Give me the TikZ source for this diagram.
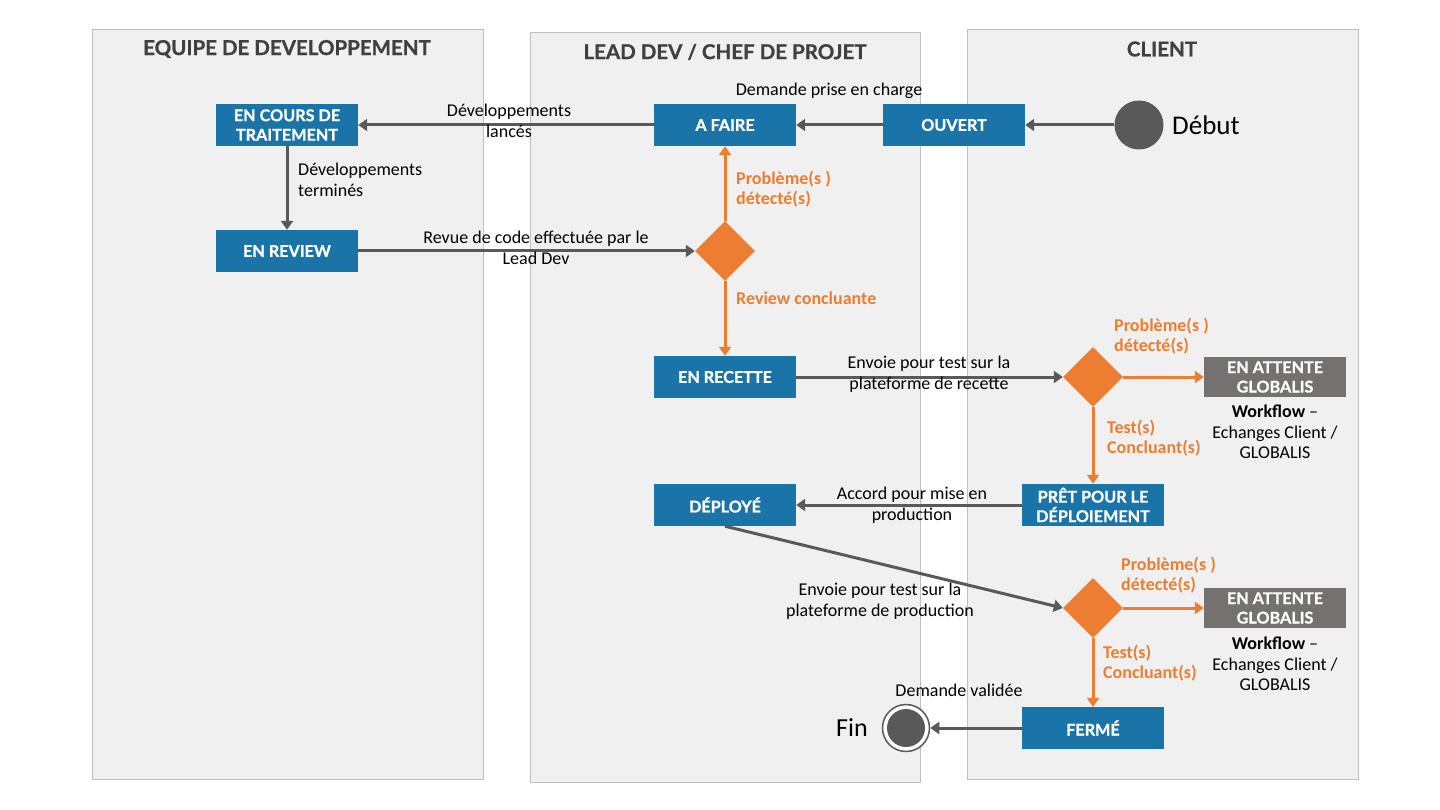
\documentclass[tikz,border=0pt]{standalone}
\usepackage{fontspec}
\setmainfont{Carlito}
\newfontfamily\latofont{Lato}[BoldFeatures={FakeBold=0.9}]
\usetikzlibrary{shapes.geometric,arrows.meta}
\definecolor{laneback}{HTML}{F0F0F0}
\definecolor{laneline}{HTML}{BFBFBF}
\definecolor{stateblue}{HTML}{1A74A8}
\definecolor{waitgray}{HTML}{767171}
\definecolor{flowgray}{HTML}{595959}
\definecolor{flowor}{HTML}{ED7D31}
\definecolor{titlegray}{HTML}{404040}
\begin{document}
\begin{tikzpicture}
  [x=1pt,y=-1pt,
   every node/.style={font=\fontsize{18}{20.5}\selectfont,inner sep=1pt},
   lane/.style={fill=laneback,draw=laneline,line width=1pt},
   lanetitle/.style={font=\latofont\bfseries\fontsize{20.5}{24}\selectfont,text=titlegray},
   state/.style={fill=stateblue,text=white,minimum width=142,minimum height=42,inner sep=0pt,align=center,
     font=\latofont\bfseries\fontsize{16.2}{19.5}\selectfont},
   waitbox/.style={state,fill=waitgray,minimum height=40},
   choice/.style={diamond,fill=flowor,minimum width=60,minimum height=60,inner sep=0pt},
   note/.style={align=center},
   warn/.style={text=flowor,font=\bfseries\fontsize{18}{20.5}\selectfont,anchor=west,align=left},
   flow/.style={draw=flowgray,line width=3pt,-{Triangle[width=12pt,length=9pt]}},
   flowko/.style={flow,draw=flowor}]
  \useasboundingbox (0,0) rectangle (1440,810);
  % swimlanes
  \draw[lane] (92,30) rectangle (483,779);
  \draw[lane] (530,33) rectangle (920,782);
  \draw[lane] (967,30) rectangle (1358,779);
  \node (t1)[lanetitle] at (287,49) {EQUIPE DE DEVELOPPEMENT};
  \node (t2)[lanetitle] at (725,52) {LEAD DEV / CHEF DE PROJET};
  \node (t3)[lanetitle] at (1162,49) {CLIENT};
  % states
  \node (encours)[state] at (287,125) {EN COURS DE\\TRAITEMENT};
  \node (review)[state] at (287,251) {EN REVIEW};
  \node (afaire)[state] at (725,125) {A FAIRE};
  \node (ouvert)[state] at (954,125) {OUVERT};
  \node (recette)[state] at (725,377) {EN RECETTE};
  \node (deploye)[state] at (725,505) {DÉPLOYÉ};
  \node (pret)[state] at (1093,505) {PRÊT POUR LE\\DÉPLOIEMENT};
  \node (ferme)[state] at (1093,728) {FERMÉ};
  \node (attente1)[waitbox] at (1275,377) {EN ATTENTE\\GLOBALIS};
  \node (attente2)[waitbox] at (1275,608) {EN ATTENTE\\GLOBALIS};
  \node (diam1)[choice] at (725,251) {};
  \node (diam2)[choice] at (1093,377) {};
  \node (diam3)[choice] at (1093,608) {};
  % start / end
  \node (debut)[circle,fill=flowgray,minimum size=49,inner sep=0pt] at (1139,125) {};
  \node (debuttxt)[anchor=west,font=\fontsize{27}{30}\selectfont] at (1171,125) {Début};
  \node (fin)[circle,draw=flowgray,line width=1.5pt,fill=white,minimum size=47,inner sep=0pt] at (906,728) {};
  \fill[flowgray] (fin.center) circle (19pt);
  \node (fintxt)[anchor=east,font=\fontsize{26}{30}\selectfont] at (869,728) {Fin};
  % connectors
  \foreach \from/\to in {afaire/encours,encours/review,review/diam1,ouvert/afaire,debut/ouvert,
      recette/diam2,pret/deploye,deploye.south/diam3.west,ferme/fin}
    \draw[flow] (\from) -- (\to);
  \foreach \from/\to in {diam1/afaire,diam1/recette,diam2/attente1,diam2/pret,diam3/attente2,diam3/ferme}
    \draw[flowko] (\from) -- (\to);
  % labels
  \node (lances)[note] at (509,121) {Développements\\lancés};
  \node (termines)[anchor=west,align=left] at (297,180) {Développements\\terminés};
  \node (revue)[note] at (536,248) {Revue de code effectuée par le\\Lead Dev};
  \node (prise)[note] at (829,91) {Demande prise en charge};
  \node (pb1)[warn] at (735,189) {Problème(s )\\détecté(s)};
  \node (concl)[warn] at (735,298) {Review concluante};
  \node (envrec)[note] at (929,374) {Envoie pour test sur la\\plateforme de recette};
  \node (pb2)[warn] at (1113,336) {Problème(s )\\détecté(s)};
  \node (ok2)[warn] at (1106,438) {Test(s)\\Concluant(s)};
  \node (wf1)[note] at (1275,432) {\textbf{Workflow} –\\Echanges Client /\\GLOBALIS};
  \node (accord)[note] at (912,505) {Accord pour mise en\\production};
  \node (envprod)[note] at (880,601) {Envoie pour test sur la\\plateforme de production};
  \node (pb3)[warn] at (1120,575) {Problème(s )\\détecté(s)};
  \node (ok3)[warn] at (1102,663) {Test(s)\\Concluant(s)};
  \node (wf2)[note] at (1275,664) {\textbf{Workflow} –\\Echanges Client /\\GLOBALIS};
  \node (valid)[note] at (959,690) {Demande validée};
\end{tikzpicture}
\end{document}
